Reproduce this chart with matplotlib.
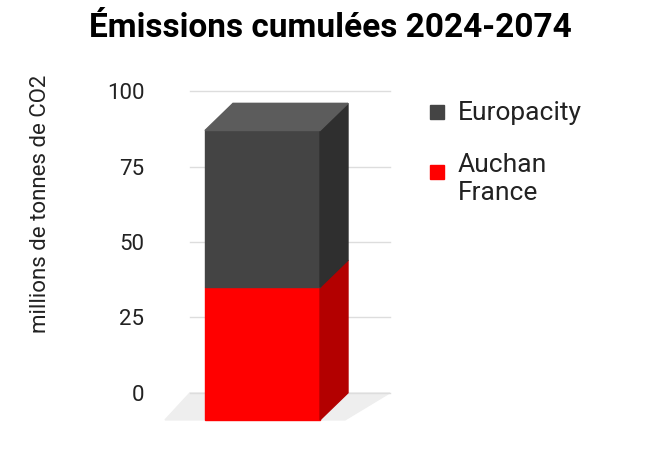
import matplotlib.pyplot as plt
from matplotlib.patches import Polygon, Rectangle

plt.rcParams['font.family'] = 'Roboto'

# data (millions de tonnes de CO2)
series = ["Auchan\nFrance", "Europacity"]
values = [44, 52]
front_colors = ["#ff0000", "#444444"]
side_colors = ["#b30000", "#2f2f2f"]
top_color = "#5c5c5c"
ticks = [0, 25, 50, 75, 100]

# 3D offset, x in pixel-like units, y in value units
dx, dy = 28, 9
x0, x1 = 55, 170

fig = plt.figure(figsize=(6.61, 4.74), dpi=100)
ax = fig.add_axes([150 / 661, 0.095, 250 / 661, 0.776])
ax.set_xlim(0, 250)
ax.set_ylim(-12, 110)
for s in ax.spines.values():
    s.set_visible(False)
ax.set_xticks([])
ax.set_yticks(ticks)
ax.tick_params(axis='y', length=0, labelsize=16, colors='#222222', pad=4)

# floor
ax.add_patch(Polygon([(15, -dy), (195, -dy), (240, 0), (40, 0)],
                     closed=True, color='#eeeeee', zorder=0))
# back grid lines
for t in ticks:
    ax.plot([40, 240], [t, t], color='#dddddd', lw=1, zorder=1)

bottom = -dy
for v, fc, sc in zip(values, front_colors, side_colors):
    top = bottom + v
    ax.add_patch(Rectangle((x0, bottom), x1 - x0, v, color=fc, zorder=3))
    ax.add_patch(Polygon([(x1, bottom), (x1 + dx, bottom + dy),
                          (x1 + dx, top + dy), (x1, top)],
                         closed=True, color=sc, zorder=3))
    bottom = top
ax.add_patch(Polygon([(x0, bottom), (x1, bottom), (x1 + dx, bottom + dy),
                      (x0 + dx, bottom + dy)], closed=True,
                     color=top_color, zorder=3))

fig.text(0.5, 0.975, "Émissions cumulées 2024-2074", ha='center', va='top',
         fontsize=24, fontweight='bold')
fig.text(0.062, 0.57, "millions de tonnes de CO2", rotation=90,
         ha='center', va='center', fontsize=16, color='#222222')

# legend
for c, y in zip(front_colors, [172, 112]):
    fig.patches.append(Rectangle((430 / 661, 1 - (y + 7) / 474), 14 / 661, 14 / 474,
                                 color=c, transform=fig.transFigure))
fig.text(458 / 661, 1 - 113 / 474, series[1], va='center', fontsize=19, color='#222222')
fig.text(458 / 661, 1 - 153 / 474, series[0], va='top', fontsize=19,
         color='#222222', linespacing=1.2)

fig.savefig("out.png", dpi=100)
